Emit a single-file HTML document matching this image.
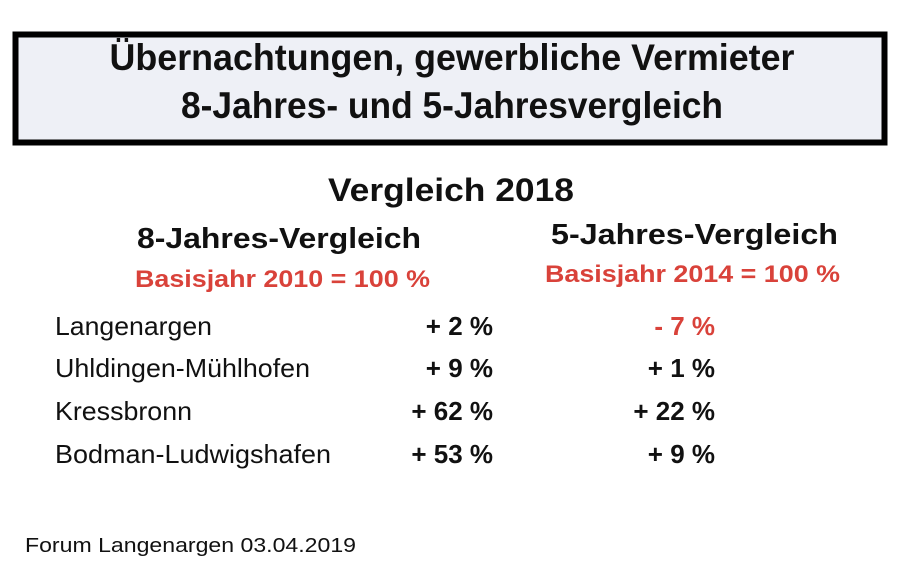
<!DOCTYPE html>
<html><head><meta charset="utf-8"><style>
html,body{margin:0;padding:0;background:#fff;}
svg{display:block;}
text{font-family:"Liberation Sans",Arial,sans-serif;}
</style></head><body>
<svg width="900" height="567" viewBox="0 0 900 567" xmlns="http://www.w3.org/2000/svg">
<rect x="0" y="0" width="900" height="567" fill="#ffffff"/>
<rect x="15.5" y="34.5" width="869" height="108" fill="#eef0f6" stroke="#000" stroke-width="6"/>
<g font-weight="bold" fill="#111">
<text x="452" y="70" text-anchor="middle" font-size="37" textLength="685" lengthAdjust="spacingAndGlyphs">Übernachtungen, gewerbliche Vermieter</text>
<text x="452" y="118" text-anchor="middle" font-size="37" textLength="542" lengthAdjust="spacingAndGlyphs">8-Jahres- und 5-Jahresvergleich</text>
<text x="451" y="201" text-anchor="middle" font-size="32" textLength="246" lengthAdjust="spacingAndGlyphs">Vergleich 2018</text>
<text x="137" y="248" font-size="29" textLength="284" lengthAdjust="spacingAndGlyphs">8-Jahres-Vergleich</text>
<text x="551" y="244" font-size="29" textLength="287" lengthAdjust="spacingAndGlyphs">5-Jahres-Vergleich</text>
</g>
<g font-weight="bold" fill="#d9423a" font-size="24">
<text x="135" y="287" textLength="295" lengthAdjust="spacingAndGlyphs">Basisjahr 2010 = 100 %</text>
<text x="545" y="282" textLength="295" lengthAdjust="spacingAndGlyphs">Basisjahr 2014 = 100 %</text>
</g>
<g fill="#111" font-size="26">
<text x="55" y="335" textLength="157" lengthAdjust="spacingAndGlyphs">Langenargen</text>
<text x="55" y="377" textLength="255" lengthAdjust="spacingAndGlyphs">Uhldingen-Mühlhofen</text>
<text x="55" y="420" textLength="137" lengthAdjust="spacingAndGlyphs">Kressbronn</text>
<text x="55" y="463" textLength="276" lengthAdjust="spacingAndGlyphs">Bodman-Ludwigshafen</text>
</g>
<g fill="#111" font-size="26" font-weight="bold" text-anchor="end">
<text x="493" y="335">+ 2 %</text>
<text x="493" y="377">+ 9 %</text>
<text x="493" y="420">+ 62 %</text>
<text x="493" y="463">+ 53 %</text>
<text x="715" y="335" fill="#d9423a">- 7 %</text>
<text x="715" y="377">+ 1 %</text>
<text x="715" y="420">+ 22 %</text>
<text x="715" y="463">+ 9 %</text>
</g>
<text x="25" y="552" font-size="20" fill="#111" textLength="331" lengthAdjust="spacingAndGlyphs">Forum Langenargen   03.04.2019</text>
</svg>
</body></html>
